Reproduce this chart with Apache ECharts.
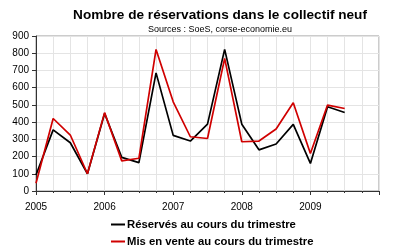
<!DOCTYPE html>
<html>
<head>
<meta charset="utf-8">
<script src="https://cdn.jsdelivr.net/npm/echarts@6/dist/echarts.min.js"></script>
<style>
  html, body { margin: 0; padding: 0; background: #fff; }
  #chart { width: 400px; height: 248px; }
</style>
</head>
<body>
<div id="chart"></div>
<script>
  // trimestres (année, trimestre)
  const periodes = [
    '2005-1', '2005-2', '2005-3', '2005-4',
    '2006-1', '2006-2', '2006-3', '2006-4',
    '2007-1', '2007-2', '2007-3', '2007-4',
    '2008-1', '2008-2', '2008-3', '2008-4',
    '2009-1', '2009-2', '2009-3'
  ]
  const reserves = [93, 355, 280, 100, 450, 195, 165, 686, 323, 290, 388, 822, 388, 239, 273, 387, 160, 489, 456]
  const misEnVente = [45, 421, 325, 100, 455, 175, 190, 822, 518, 315, 305, 770, 286, 290, 360, 512, 218, 499, 479]
  const annees = [2005, 2006, 2007, 2008, 2009, 2010]
  const noms = ['Réservés au cours du trimestre', 'Mis en vente au cours du trimestre']

  // position du trimestre sur l'axe des années
  const xPos = periodes.map(p => {
    const [a, t] = p.split('-').map(Number)
    return a + (t - 1) / 4
  })
  const toData = vals => vals.map((v, i) => [xPos[i], v])

  const legendItem = (nom, top) => ({
    left: 106,
    top: top,
    itemWidth: 14,
    itemHeight: 2,
    icon: 'rect',
    textStyle: { fontFamily: 'Arial', fontSize: 11.3, fontWeight: 'bold', color: '#000', padding: [0, 0, 0, -3] },
    data: [nom]
  })

  const chart = echarts.init(document.getElementById('chart'))
  chart.setOption({
    animation: false,
    title: {
      text: 'Nombre de réservations dans le collectif neuf',
      subtext: 'Sources : SoeS, corse-economie.eu',
      left: 215,
      textAlign: 'center',
      top: 3,
      itemGap: 3,
      textStyle: { fontFamily: 'Arial', fontSize: 13.6, fontWeight: 'bold', color: '#000' },
      subtextStyle: { fontFamily: 'Arial', fontSize: 9, color: '#000' }
    },
    grid: {
      left: 36, right: 21, top: 36, bottom: 57,
      show: true, borderColor: '#999', borderWidth: 1
    },
    legend: [legendItem(noms[0], 214), legendItem(noms[1], 231)],
    xAxis: {
      type: 'value',
      min: annees[0],
      max: annees[annees.length - 1],
      interval: 1,
      axisLine: { lineStyle: { color: '#333' } },
      axisTick: { show: true, length: 4, lineStyle: { color: '#333' } },
      minorTick: { show: true, splitNumber: 4, length: 2, lineStyle: { color: '#333' } },
      splitLine: { show: true, lineStyle: { color: '#e4e4e4' } },
      minorSplitLine: { show: true, lineStyle: { color: '#e4e4e4' } },
      axisLabel: {
        fontFamily: 'Arial', fontSize: 10, color: '#000', margin: 11,
        formatter: v => (v < 2010 ? String(v) : '')
      }
    },
    yAxis: {
      type: 'value',
      min: 0, max: 900, interval: 100,
      axisLine: { show: true, lineStyle: { color: '#333' } },
      axisTick: { show: true, length: 4, lineStyle: { color: '#333' } },
      splitLine: { show: true, lineStyle: { color: '#e4e4e4' } },
      axisLabel: { fontFamily: 'Arial', fontSize: 10, color: '#000', margin: 7 }
    },
    series: [
      {
        name: noms[0],
        type: 'line',
        data: toData(reserves),
        showSymbol: false,
        color: '#000',
        lineStyle: { width: 1.7, color: '#000' }
      },
      {
        name: noms[1],
        type: 'line',
        data: toData(misEnVente),
        showSymbol: false,
        color: '#d00000',
        lineStyle: { width: 1.7, color: '#d00000' }
      }
    ]
  })
</script>
</body>
</html>
